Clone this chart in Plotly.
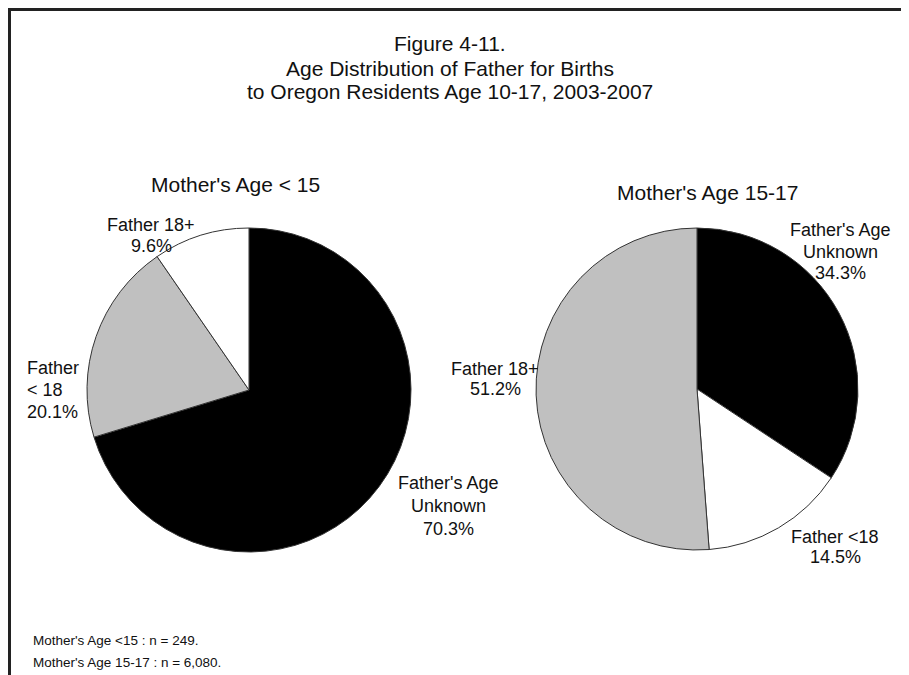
import plotly.graph_objects as go

# ---- data ----
categories_lt15 = ["Father's Age Unknown", "Father < 18", "Father 18+"]
values_lt15 = [70.3, 20.1, 9.6]
categories_15_17 = ["Father's Age Unknown", "Father <18", "Father 18+"]
values_15_17 = [34.3, 14.5, 51.2]

# label line splits (text only)
label_lines_lt15 = [["Father's Age", "Unknown"], ["Father", "< 18"], ["Father 18+"]]
label_lines_15_17 = [["Father's Age", "Unknown"], ["Father <18"], ["Father 18+"]]

title_lines = ["Figure 4-11.", "Age Distribution of Father for Births",
               "to Oregon Residents Age 10-17, 2003-2007"]
subtitles = ["Mother's Age < 15", "Mother's Age 15-17"]
footnotes = ["Mother's Age <15 : n = 249.", "Mother's Age 15-17 : n = 6,080."]

# ---- layout helpers ----
OFF = 8  # page body margin offset
W, H = 909 - OFF, 675 - OFF
FONT = "Liberation Sans, Arial, sans-serif"


def px(x):
    return (x - OFF) / W


def py(y):
    return 1 - (y - OFF) / H


colors_lt15 = ["#000000", "#c0c0c0", "#ffffff"]
colors_15_17 = ["#000000", "#ffffff", "#c0c0c0"]

fig = go.Figure()

# pie domains (pixel boxes)
dom1 = dict(x=[px(87), px(411)], y=[py(552), py(228)])
dom2 = dict(x=[px(536), px(858)], y=[py(550), py(228)])

fig.add_trace(go.Pie(
    labels=categories_lt15, values=values_lt15, sort=False,
    direction="clockwise", rotation=0, textinfo="none", hoverinfo="skip",
    marker=dict(colors=colors_lt15, line=dict(color="#333333", width=1)),
    domain=dom1, showlegend=False,
))
fig.add_trace(go.Pie(
    labels=categories_15_17, values=values_15_17, sort=False,
    direction="clockwise", rotation=0, textinfo="none", hoverinfo="skip",
    marker=dict(colors=colors_15_17, line=dict(color="#333333", width=1)),
    domain=dom2, showlegend=False,
))

annotations = []


def add_text(text, x, y, size, xanchor="center"):
    annotations.append(dict(
        text=text, x=px(x), y=py(y), xref="paper", yref="paper",
        xanchor=xanchor, yanchor="middle", showarrow=False,
        font=dict(family=FONT, size=size, color="#111111"),
    ))


# title
for line, y in zip(title_lines, [44, 68, 92]):
    add_text(line, 450, y, 21)

# subtitles
add_text(subtitles[0], 235, 184, 21)
add_text(subtitles[1], 707, 192, 21)

# slice labels: (x, y of first line, line spacing, anchor)
label_pos_lt15 = [(448, 483, 23, "center"), (25, 368, 22, "left"), (151, 225, 21, "center")]
label_pos_15_17 = [(840, 230, 21.5, "center"), (835, 537, 20, "center"), (495, 369, 19.5, "center")]

for lines_set, vals, pos_set in [
    (label_lines_lt15, values_lt15, label_pos_lt15),
    (label_lines_15_17, values_15_17, label_pos_15_17),
]:
    for lines, v, (x, y0, dy, anc) in zip(lines_set, vals, pos_set):
        all_lines = lines + [f"{v:.1f}%"]
        for i, ln in enumerate(all_lines):
            add_text(ln, x, y0 + i * dy, 18, xanchor=anc)

# footnotes
for line, y in zip(footnotes, [640, 662]):
    add_text(line, 31, y, 13.5, xanchor="left")

fig.update_layout(
    width=W, height=H,
    margin=dict(l=0, r=0, t=0, b=0),
    paper_bgcolor="white", plot_bgcolor="white",
    annotations=annotations,
    shapes=[dict(type="rect", xref="paper", yref="paper",
                 x0=px(9.5), x1=1.05, y0=-0.05, y1=py(9.5),
                 line=dict(color="#222222", width=3), fillcolor="rgba(0,0,0,0)")],
)

fig.write_html("out.html")
